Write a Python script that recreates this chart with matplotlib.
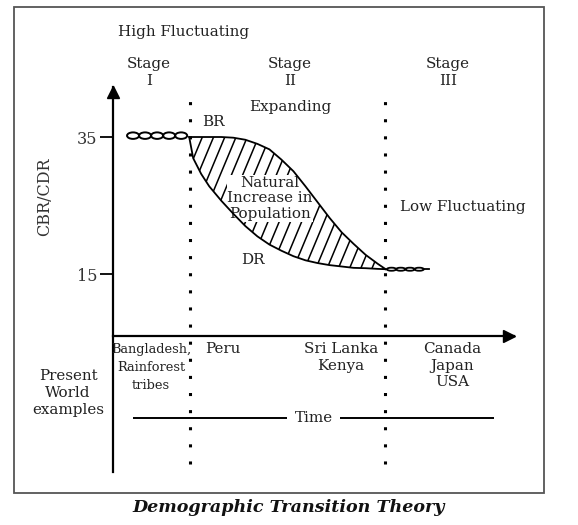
import numpy as np
import matplotlib
matplotlib.use('Agg')
import matplotlib.pyplot as plt
from matplotlib.patches import Ellipse, Rectangle

plt.rcParams['font.family'] = 'DejaVu Serif'

# Schematic values (time in arbitrary units 0-100, rate per 1000)
RATE_TICKS = [15, 35]
STAGE_BOUNDS = [19.2, 67.8]
X_AXIS_LEVEL = 6
TIME_LINE_LEVEL = -6

TIME_PTS = [19, 20, 22, 24, 27, 30, 33, 36, 39, 42, 45, 48, 51, 54, 57, 60, 63, 66, 68]
BIRTH_RATE = [35, 35, 35, 35, 35, 34.9, 34.6, 34.0, 33.2, 31.7, 30.0, 27.8, 25.5, 23.2,
              21.1, 19.4, 17.8, 16.5, 15.7]
DEATH_RATE = [35, 31.9, 29.6, 27.8, 25.7, 23.8, 22.0, 20.5, 19.3, 18.4, 17.6, 17.0, 16.6,
              16.3, 16.1, 15.9, 15.85, 15.75, 15.7]

# loops of the fluctuating parts (node positions along time)
HIGH_FLUCT_NODES = [3.5, 6.5, 9.5, 12.5, 15.5, 18.5]
HIGH_FLUCT_LEVEL = 35.2
LOW_FLUCT_NODES = [68.3, 70.6, 72.9, 75.2, 77.5]
LOW_FLUCT_LEVEL = 15.7

STAGE_LABELS = ['Stage\nI', 'Stage\nII', 'Stage\nIII']
EXAMPLES = ['Peru', 'Sri Lanka\nKenya', 'Canada\nJapan\nUSA']

W, H = 578, 525
TXT = '#222222'


def px(x, y):
    """pixel position (from top-left) -> figure fraction"""
    return x / W, 1 - y / H


fig = plt.figure(figsize=(W / 100, H / 100), dpi=100)
ax = fig.add_axes([113 / W, 1 - 472 / H, 401 / W, 385 / H])
ax.set_xlim(0, 100)
ax.set_ylim(-13.9, 42.3)

# axes look
for s in ['top', 'right']:
    ax.spines[s].set_visible(False)
ax.spines['left'].set_linewidth(1.6)
ax.spines['bottom'].set_linewidth(1.6)
ax.spines['bottom'].set_position(('data', X_AXIS_LEVEL))
ax.set_xticks([])
ax.set_yticks(RATE_TICKS)
ax.tick_params(axis='y', direction='out', length=9.5, width=1.3, labelsize=11.5,
               labelcolor='#333333', pad=2)
ax.set_ylabel('CBR/CDR', fontsize=11.5, color='#333333')
ax.yaxis.set_label_coords(-0.15, 0.714)
ax.patch.set_alpha(0)

# arrow heads
ax.plot(0, 0.988, marker='^', color='k', markersize=8, transform=ax.get_xaxis_transform(),
        clip_on=False)
ax.plot(0.988, X_AXIS_LEVEL, marker='>', color='k', markersize=8,
        transform=ax.get_yaxis_transform(), clip_on=False)

# stage boundaries
ax.vlines(STAGE_BOUNDS, -12.7, 40.4, colors='k', linewidth=2.2,
          linestyles=[(0, (1, 4.6))], clip_on=False)

# birth and death rate curves (on top of the hatching and its label)
ax.plot(TIME_PTS, BIRTH_RATE, color='k', linewidth=1.3, zorder=3)
ax.plot(TIME_PTS, DEATH_RATE, color='k', linewidth=1.3, zorder=3)
gap = ax.fill_between(TIME_PTS, DEATH_RATE, BIRTH_RATE, facecolor='none', edgecolor='none')
clip = gap.get_paths()[0]
for k in np.arange(8, 70, 2.8):
    ln, = ax.plot([k, k + 21 / 1.4], [15, 36], color='k', linewidth=1.1, zorder=1.5)
    ln.set_clip_path(clip, transform=ax.transData)

# fluctuating parts drawn as small chains of loops
for a, b in zip(HIGH_FLUCT_NODES[:-1], HIGH_FLUCT_NODES[1:]):
    ax.add_patch(Ellipse(((a + b) / 2, HIGH_FLUCT_LEVEL), b - a, 0.95, fill=False,
                         edgecolor='k', linewidth=1.4))
for a, b in zip(LOW_FLUCT_NODES[:-1], LOW_FLUCT_NODES[1:]):
    ax.add_patch(Ellipse(((a + b) / 2, LOW_FLUCT_LEVEL), b - a, 0.45, fill=False,
                         edgecolor='k', linewidth=1.3))
ax.plot([LOW_FLUCT_NODES[-1], 78.8], [LOW_FLUCT_LEVEL, LOW_FLUCT_LEVEL], color='k',
        linewidth=1.3)

# time line
ax.hlines(TIME_LINE_LEVEL, 5, 95, colors='k', linewidth=1.4)

# frame round the whole picture
fig.patches.append(Rectangle(px(14, 493), 530 / W, 486 / H, transform=fig.transFigure,
                             fill=False, edgecolor='#555555', linewidth=1.3))

# texts
fs = 10.9
fig.text(*px(118, 32), 'High Fluctuating', fontsize=fs, color=TXT, ha='left', va='center')
for x, lab in zip([149, 290, 448], STAGE_LABELS):
    fig.text(*px(x, 72.5), lab, fontsize=fs, color=TXT, ha='center', va='center',
             linespacing=1.3)
fig.text(*px(290, 107), 'Expanding', fontsize=fs, color=TXT, ha='center', va='center')
fig.text(*px(213, 122), 'BR', fontsize=fs, color=TXT, ha='center', va='center')
ax.text(*px(270, 198.5), 'Natural\nIncrease in\nPopulation', transform=fig.transFigure,
        fontsize=fs, color=TXT, ha='center', va='center', linespacing=1.12, zorder=2,
        bbox=dict(boxstyle='square,pad=0.05', facecolor='white', edgecolor='none'))
fig.text(*px(253, 260), 'DR', fontsize=fs, color=TXT, ha='center', va='center')
fig.text(*px(400, 207), 'Low Fluctuating', fontsize=fs, color=TXT, ha='left', va='center')

# present world examples below the time axis
fig.text(*px(151, 343), 'Bangladesh,\nRainforest\ntribes', fontsize=9.3, color=TXT,
         ha='center', va='top', linespacing=1.5)
for x, lab in zip([223, 341, 452], EXAMPLES):
    fig.text(*px(x, 342), lab, fontsize=fs, color=TXT, ha='center', va='top',
             linespacing=1.25)
fig.text(*px(68, 393), 'Present\nWorld\nexamples', fontsize=fs, color=TXT, ha='center',
         va='center', linespacing=1.25)
ax.text(50, TIME_LINE_LEVEL, 'Time', fontsize=fs, color=TXT, ha='center', va='center',
        bbox=dict(boxstyle='square,pad=0.5', facecolor='white', edgecolor='none'))

fig.text(*px(289, 508), 'Demographic Transition Theory', fontsize=12.6, fontweight='bold',
         fontstyle='italic', color='#111111', ha='center', va='center')

plt.savefig('out.png', dpi=100)
